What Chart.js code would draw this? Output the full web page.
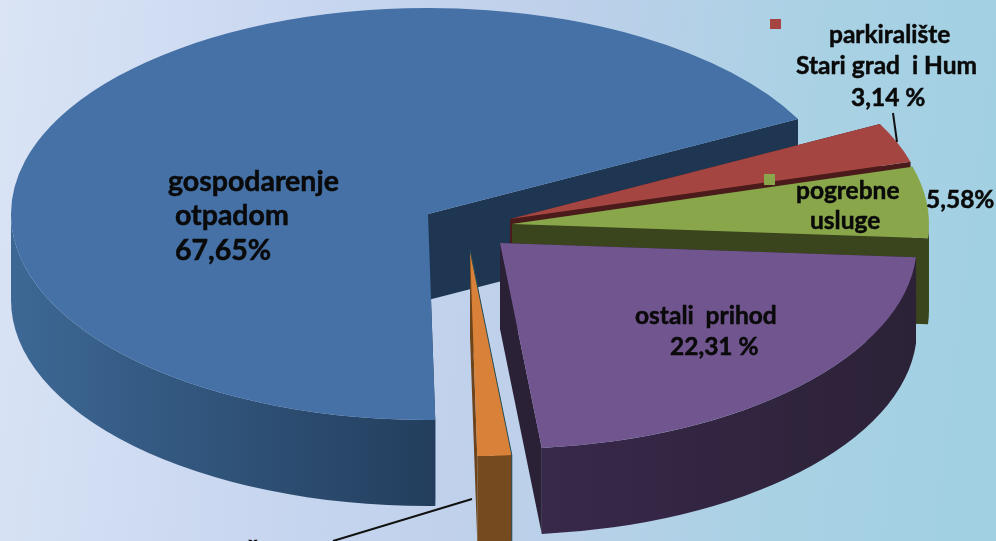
<!DOCTYPE html>
<html>
<head>
<meta charset="utf-8">
<script src="https://cdn.jsdelivr.net/npm/chart.js@4"></script>
<style>
    html, body { margin: 0; padding: 0; width: 996px; height: 541px; overflow: hidden; }
    body { background: linear-gradient(97deg, #dae4f5 0%, #c9d7f0 28%, #bfd0eb 52%, #a9d1e4 78%, #a0d0e2 100%); }
    canvas { display: block; }
</style>
</head>
<body>
<canvas id="pie" width="996" height="541"></canvas>
<script>
// values (orange one is what is left to 100)
const categories = ['gospodarenje otpadom', 'parkiralište Stari grad i Hum', 'pogrebne usluge', 'ostali prihod', 'ostalo'];
const shares = [67.65, 3.14, 5.58, 22.31, 1.32];

const topColors = ['#4571a6', '#a54542', '#8aa64b', '#71558e', '#da8139'];
const cutColors = ['#1e3652', '#4a1b1a', '#3a451d', '#2b2136', '#6e441c'];
const wallLeft = ['#3d6895', '#4a1b1a', '#3a451d', '#38284a', '#754a1e'];
const wallRight = ['#233e5d', '#4a1b1a', '#3a451d', '#2c2237', '#754a1e'];

// where each slice has its tip on the page, the slices were pulled out by hand
const tipX = [428, 510, 512, 500, 470];
const tipY = [214, 219, 224, 243, 250];
const radiusX = 417;
const radiusY = 206;
const depth = 86;

const labelFont = 'bold 28.5px Lato';
const smallFont = 'bold 24.5px Lato';
const labelTexts = ['gospodarenje', 'otpadom', '67,65%', 'parkiralište', 'Stari grad  i Hum', '3,14 %', 'pogrebne', 'usluge', '5,58%', 'ostali  prihod', '22,31 %', 'ž'];
const labelX = [168, 175, 175, 829, 796, 851, 796, 810, 926, 635, 670, 247];
const labelY = [191, 225, 260, 43, 74, 106, 199, 229, 208, 324, 355, 558];
const labelFonts = [labelFont, labelFont, labelFont, smallFont, smallFont, smallFont, smallFont, smallFont, smallFont, smallFont, smallFont, smallFont];

function drawWalls(ctx, arc, i) {
    const cx = tipX[i];
    const cy = tipY[i];
    const a0 = arc.startAngle;
    const a1 = arc.endAngle;

    // the two cut faces
    [a0, a1].forEach(function (a) {
        ctx.beginPath();
        ctx.moveTo(cx, cy);
        ctx.lineTo(cx + Math.cos(a) * radiusX, cy + Math.sin(a) * radiusY);
        ctx.lineTo(cx + Math.cos(a) * radiusX, cy + Math.sin(a) * radiusY + depth);
        ctx.lineTo(cx, cy + depth);
        ctx.closePath();
        ctx.fillStyle = cutColors[i];
        ctx.fill();
    });

    // outer wall, only the part on the lower half of the ellipse shows
    for (let k = 0; k < 3; k++) {
        const from = Math.max(a0, k * 2 * Math.PI);
        const to = Math.min(a1, k * 2 * Math.PI + Math.PI);
        if (to <= from) continue;
        const xs = Math.cos(to) * radiusX + cx;
        const xe = Math.cos(from) * radiusX + cx;
        const grad = ctx.createLinearGradient(xs, 0, xe, 0);
        grad.addColorStop(0, wallLeft[i]);
        grad.addColorStop(1, wallRight[i]);
        ctx.beginPath();
        ctx.ellipse(cx, cy, radiusX, radiusY, 0, from, to);
        ctx.ellipse(cx, cy + depth, radiusX, radiusY, 0, to, from, true);
        ctx.closePath();
        ctx.fillStyle = grad;
        ctx.fill();
    }
}

const pie3d = {
    id: 'pie3d',
    beforeDatasetDraw(chart) {
        const ctx = chart.ctx;
        const arcs = chart.getDatasetMeta(0).data;
        arcs.forEach(function (arc, i) {
            drawWalls(ctx, arc, i);
            ctx.save();
            ctx.translate(tipX[i], tipY[i]);
            ctx.scale(radiusX / arc.outerRadius, radiusY / arc.outerRadius);
            ctx.translate(-arc.x, -arc.y);
            arc.draw(ctx);
            ctx.restore();
        });

        // thin dark rim on the right side of the orange slice
        const last = arcs.length - 1;
        const a = arcs[last].startAngle;
        const ex = tipX[last] + Math.cos(a) * radiusX;
        const ey = tipY[last] + Math.sin(a) * radiusY;
        ctx.strokeStyle = '#24505c';
        ctx.lineWidth = 1;
        ctx.beginPath();
        ctx.moveTo(tipX[last], tipY[last]);
        ctx.lineTo(ex, ey);
        ctx.lineTo(ex, ey + depth);
        ctx.stroke();
        return false;
    },
    afterDraw(chart) {
        const ctx = chart.ctx;
        ctx.save();

        // leader lines
        ctx.strokeStyle = '#111';
        ctx.lineWidth = 2;
        ctx.beginPath();
        ctx.moveTo(893, 113);
        ctx.lineTo(897, 142);
        ctx.moveTo(472, 499);
        ctx.lineTo(333, 541);
        ctx.stroke();

        // leftover legend keys
        ctx.fillStyle = topColors[1];
        ctx.fillRect(770, 19, 11, 10);
        ctx.fillStyle = topColors[2];
        ctx.fillRect(764, 174, 11, 11);

        ctx.fillStyle = '#0a0a0a';
        ctx.strokeStyle = '#0a0a0a';
        ctx.lineWidth = 0.5;
        ctx.textAlign = 'left';
        ctx.textBaseline = 'alphabetic';
        labelTexts.forEach(function (text, i) {
            ctx.font = labelFonts[i];
            ctx.fillText(text, labelX[i], labelY[i]);
            ctx.strokeText(text, labelX[i], labelY[i]);
        });
        ctx.restore();
    }
};

new Chart(document.getElementById('pie'), {
    type: 'pie',
    data: {
        labels: categories,
        datasets: [{
            data: shares,
            backgroundColor: topColors,
            borderWidth: 0
        }]
    },
    options: {
        responsive: false,
        animation: false,
        rotation: 179,
        plugins: {
            legend: { display: false },
            tooltip: { enabled: false }
        }
    },
    plugins: [pie3d]
});
</script>
</body>
</html>
